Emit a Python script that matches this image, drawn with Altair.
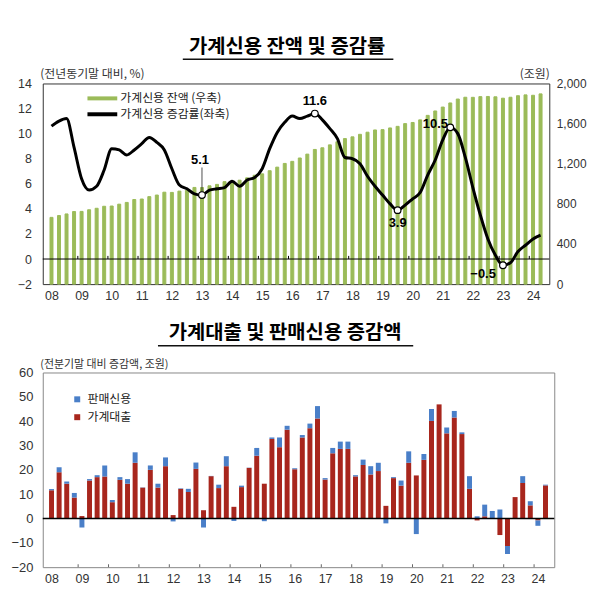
import json
import altair as alt
import pandas as pd

# ---------------- data ----------------
year_labels = ["08", "09", "10", "11", "12", "13", "14", "15", "16",
               "17", "18", "19", "20", "21", "22", "23", "24"]
n_q = 66  # 2008Q1 ~ 2024Q2
idx = list(range(n_q))

# 가계신용 잔액 (조원, right axis)
balance = [665.4, 683.6, 699.4, 723.5,
           724.9, 741.2, 756.0, 776.0,
           778.6, 796.9, 814.4, 843.2,
           848.3, 872.0, 887.9, 916.2,
           914.1, 927.0, 935.3, 963.8,
           962.9, 980.0, 994.2, 1021.4,
           1024.9, 1035.9, 1059.3, 1085.3,
           1099.3, 1130.5, 1166.1, 1203.1,
           1223.7, 1257.3, 1295.8, 1342.5,
           1359.1, 1388.1, 1419.3, 1450.8,
           1468.2, 1493.2, 1514.4, 1536.7,
           1540.0, 1556.7, 1572.7, 1600.1,
           1611.3, 1637.3, 1682.1, 1726.1,
           1765.0, 1805.9, 1844.9, 1862.9,
           1862.1, 1868.9, 1870.6, 1867.3,
           1853.3, 1862.8, 1878.3, 1886.4,
           1882.4, 1896.2]

# 가계신용 증감률 (%, left axis)
growth = [10.6, 11.0, 11.2, 8.9,
          6.4, 5.5, 5.8, 7.1,
          8.8, 8.7, 8.3, 8.7,
          9.2, 9.7, 9.3, 8.7,
          7.2, 5.9, 5.6, 5.2,
          5.1, 5.5, 5.6, 5.7,
          6.2, 5.8, 6.3, 6.5,
          7.2, 8.8, 10.1, 10.9,
          11.4, 11.2, 11.4, 11.6,
          11.1, 10.4, 9.6, 8.1,
          8.0, 7.6, 6.6, 5.8,
          5.1, 4.4, 3.9, 4.3,
          4.8, 5.3, 6.7, 7.9,
          9.5, 10.5, 10.0, 8.1,
          5.7, 3.5, 1.6, 0.3,
          -0.5, -0.3, 0.6, 1.1,
          1.6, 1.9]

# 가계대출 / 판매신용 증감액 (조원)
loans = [11.6, 19.0, 14.3, 8.6,
         1.0, 15.6, 17.0, 17.3,
         6.7, 15.9, 14.3, 22.9,
         12.7, 20.0, 12.7, 21.5,
         1.4, 12.2, 10.9, 20.4,
         3.4, 17.4, 12.5, 21.5,
         4.8, 12.9, 20.8, 25.8,
         14.3, 32.7, 29.3, 36.5,
         20.2, 33.3, 37.1, 41.1,
         16.0, 26.8, 28.6, 28.6,
         17.3, 22.0, 18.1, 19.5,
         5.2, 16.6, 13.5, 22.9,
         17.7, 24.1, 40.1, 46.9,
         35.0, 41.5, 34.7, 12.2,
         -0.8, 0.9, 0.0, -6.8,
         -11.3, 8.8, 14.6, 5.4,
         -0.8, 13.6]
sales = [0.5, 2.1, 0.9, 1.9,
         -3.7, 0.6, 0.8, 4.5,
         0.9, 1.1, 1.9, 4.3,
         0.1, 1.8, 1.6, 3.6,
         -1.2, 0.2, 1.3, 2.6,
         -3.7, 0.1, 1.4, 4.1,
         -1.0, 0.6, 0.1, 3.2,
         -1.1, 0.6, 4.0, 1.6,
         0.5, 1.0, 1.9, 5.1,
         0.6, 2.2, 3.0, 3.0,
         0.5, 2.2, 3.4, 3.4,
         -2.0, 0.4, 2.1, 4.7,
         -6.4, 2.4, 4.9, 0.0,
         2.4, 2.7, 0.7, 5.2,
         0.9, 4.8, 3.1, 3.7,
         -3.3, 0.0, 2.8, 1.7,
         -2.2, 0.3]

ann_idx = [20, 35, 46, 53, 60]
ann_text = ["5.1", "11.6", "3.9", "10.5", "\u22120.5"]

LEG_BAR = "가계신용 잔액 (우축)"
LEG_LINE = "가계신용 증감률(좌축)"
SER_SALES = "판매신용"
SER_LOANS = "가계대출"

# ---------------- style ----------------
FONT_KR = "Noto Sans CJK KR"
FONT_NUM = "Liberation Sans"
GREEN = "#9bbb59"
RED = "#a8261d"
BLUE = "#4a7fc8"
LABEL_COL = "#333333"
ann_offsets = [(-2, -35), (0, -13), (0, 13), (-15, -3), (-20, 9)]

W_TOP, H_TOP = 510, 202
W_BOT, H_BOT = 515, 196

label_expr = json.dumps(year_labels) + "[floor(datum.value / 4)]"
year_starts = [4 * k - 0.5 for k in range(1, len(year_labels))]


def x_enc(field):
    return alt.X(
        field,
        scale=alt.Scale(domain=[-0.5, n_q - 0.5], nice=False, zero=False),
        axis=alt.Axis(values=list(range(0, n_q, 4)), labelExpr=label_expr,
                      ticks=False, domain=False, grid=False, labelPadding=5,
                      labelFont=FONT_NUM, labelFontSize=12.5,
                      labelColor=LABEL_COL, title=None),
    )


# ---------------- top chart ----------------
bar_df = pd.DataFrame({"i": idx, "bal": balance, "s": LEG_BAR})
line_df = pd.DataFrame({"i": idx, "gr": growth, "s": LEG_LINE})
ann_df = pd.DataFrame({"i": ann_idx, "gr": [growth[k] for k in ann_idx],
                       "txt": ann_text})
tick_top_df = pd.DataFrame({"i": year_starts, "y0": 0.0, "y1": 0.25})
zero_df = pd.DataFrame({"z": [0.0]})
leader_df = pd.DataFrame({"i": [ann_idx[0]], "y0": [growth[ann_idx[0]]],
                          "y1": [7.3]})

stroke_scale = alt.Scale(domain=[LEG_BAR, LEG_LINE], range=[GREEN, "black"])
legend_top = alt.Legend(orient="none", legendX=52, legendY=7, title=None,
                        symbolType="M-2.5,0H2.5", symbolSize=144,
                        symbolStrokeWidth=4, labelFont=FONT_KR,
                        labelFontSize=12, labelColor="#222222",
                        labelOffset=10, rowPadding=0, padding=0)

left_scale = alt.Scale(domain=[-2, 14], nice=False, zero=False)
left_axis = alt.Axis(orient="left", values=list(range(-2, 15, 2)),
                     ticks=False, domain=False, grid=False, labelPadding=11.5,
                     labelFont=FONT_NUM, labelFontSize=12.5,
                     labelColor=LABEL_COL,
                     title="(전년동기말 대비, %)", titleAngle=0, titleX=-3,
                     titleY=-3, titleAlign="left", titleBaseline="bottom",
                     titleFont=FONT_KR, titleFontSize=12,
                     titleFontWeight="normal", titleColor=LABEL_COL)


def ly(field):
    return alt.Y(field, scale=left_scale, axis=left_axis)


bars = alt.Chart(bar_df).mark_bar(size=3, fill=GREEN).encode(
    x=x_enc("i:Q"),
    y=alt.Y("bal:Q", scale=alt.Scale(domain=[0, 2000], nice=False),
            axis=alt.Axis(orient="right", values=list(range(0, 2001, 400)),
                          format=",d", ticks=False, domain=False, grid=False,
                          labelPadding=7, labelFont=FONT_NUM,
                          labelFontSize=12, labelColor=LABEL_COL,
                          title="(조원)", titleAngle=0, titleX=0, titleY=-3,
                          titleAlign="right", titleBaseline="bottom",
                          titleFont=FONT_KR, titleFontSize=12,
                          titleFontWeight="normal", titleColor=LABEL_COL)),
    stroke=alt.Stroke("s:N", scale=stroke_scale, legend=legend_top),
)

zero_top = alt.Chart(zero_df).mark_rule(color="black", strokeWidth=1).encode(
    y=ly("z:Q"))
ticks_top = alt.Chart(tick_top_df).mark_rule(color="black", strokeWidth=1).encode(
    x=x_enc("i:Q"), y=ly("y0:Q"), y2="y1:Q")
line = alt.Chart(line_df).mark_line(strokeWidth=3, interpolate="monotone").encode(
    x=x_enc("i:Q"), y=ly("gr:Q"),
    stroke=alt.Stroke("s:N", scale=stroke_scale, legend=legend_top))
leader = alt.Chart(leader_df).mark_rule(color="#222222", strokeWidth=0.8).encode(
    x=x_enc("i:Q"), y=ly("y0:Q"), y2="y1:Q")
points = alt.Chart(ann_df).mark_point(shape="circle", filled=True, fill="white",
                                      stroke="black", strokeWidth=1.2,
                                      size=45, opacity=1).encode(
    x=x_enc("i:Q"), y=ly("gr:Q"))
texts = []
for k, (dx, dy) in enumerate(ann_offsets):
    texts.append(
        alt.Chart(ann_df.iloc[[k]]).mark_text(
            dx=dx, dy=dy, font=FONT_NUM, fontSize=13, fontWeight="bold",
            color="black").encode(x=x_enc("i:Q"), y=ly("gr:Q"),
                                  text="txt:N"))
underline_top = alt.Chart(zero_df).mark_rule(color="#111111", strokeWidth=1.5).encode(
    x=alt.value(141), x2=alt.value(353), y=alt.value(-24.5))

inner = alt.layer(line, zero_top, ticks_top, leader, points, *texts, underline_top)
top = alt.layer(bars, inner).resolve_scale(y="independent").properties(
    width=W_TOP, height=H_TOP,
    title=alt.TitleParams("가계신용 잔액 및 증감률", font=FONT_KR, fontSize=20,
                          fontWeight="bold", anchor="middle", frame="group",
                          dx=-9, offset=1, color="black"),
    view=alt.ViewBackground(stroke="#333333", strokeWidth=1),
)

# ---------------- bottom chart ----------------
bot_df = pd.DataFrame({
    "i": idx * 2,
    "v": loans + sales,
    "series": [SER_LOANS] * n_q + [SER_SALES] * n_q,
    "ord": [0] * n_q + [1] * n_q,
})
tick_bot_df = pd.DataFrame({"i": year_starts, "y0": -20.0, "y1": -18.8})
zero_bot_df = pd.DataFrame({"zz": [0.0]})

bot_scale = alt.Scale(domain=[-20, 60], nice=False, zero=False)
bot_axis = alt.Axis(orient="left", values=list(range(-20, 61, 10)),
                    ticks=False, domain=False, grid=False, labelPadding=10,
                    labelFont=FONT_NUM, labelFontSize=13, labelColor=LABEL_COL,
                    title="(전분기말 대비 증감액, 조원)", titleAngle=0,
                    titleX=-3, titleY=-3, titleAlign="left",
                    titleBaseline="bottom", titleFont=FONT_KR,
                    titleFontSize=11, titleFontWeight="normal",
                    titleColor=LABEL_COL)
legend_bot = alt.Legend(orient="none", legendX=28.7, legendY=21, title=None,
                        symbolType="square", symbolSize=36,
                        symbolStrokeWidth=0, labelFont=FONT_KR,
                        labelFontSize=12, labelColor="#222222",
                        labelOffset=4.3, rowPadding=6, padding=0)

bars2 = alt.Chart(bot_df).mark_bar(size=5).encode(
    x=x_enc("i:Q"),
    y=alt.Y("v:Q", stack="zero", scale=bot_scale, axis=bot_axis),
    color=alt.Color("series:N",
                    scale=alt.Scale(domain=[SER_SALES, SER_LOANS],
                                    range=[BLUE, RED]),
                    legend=legend_bot),
    order=alt.Order("ord:Q", sort="ascending"),
)
zero_bot = alt.Chart(zero_bot_df).mark_rule(color="black", strokeWidth=1.3).encode(
    y=alt.Y("zz:Q", scale=bot_scale, axis=bot_axis))
ticks_bot = alt.Chart(tick_bot_df).mark_rule(color="#666666", strokeWidth=1).encode(
    x=x_enc("i:Q"), y=alt.Y("y0:Q", scale=bot_scale, axis=bot_axis),
    y2="y1:Q")
underline_bot = alt.Chart(zero_bot_df).mark_rule(color="#111111", strokeWidth=1.5).encode(
    x=alt.value(116), x2=alt.value(373), y=alt.value(-27))

bottom = alt.layer(bars2, zero_bot, ticks_bot, underline_bot).properties(
    width=W_BOT, height=H_BOT,
    title=alt.TitleParams("가계대출 및 판매신용 증감액", font=FONT_KR, fontSize=20,
                          fontWeight="bold", anchor="middle", frame="group",
                          dx=-13.5, offset=2, color="black"),
    view=alt.ViewBackground(stroke="#888888", strokeWidth=1),
)

chart = alt.vconcat(top, bottom, spacing=89, bounds="flush").resolve_scale(
    color="independent", stroke="independent", x="independent"
).resolve_legend(
    color="independent", stroke="independent"
).properties(
    padding={"left": 2, "top": 27, "right": 5, "bottom": 5},
    background="white",
).configure_view(stroke="#333333")

chart.save("out.html", embed_options={"renderer": "svg", "actions": False})
